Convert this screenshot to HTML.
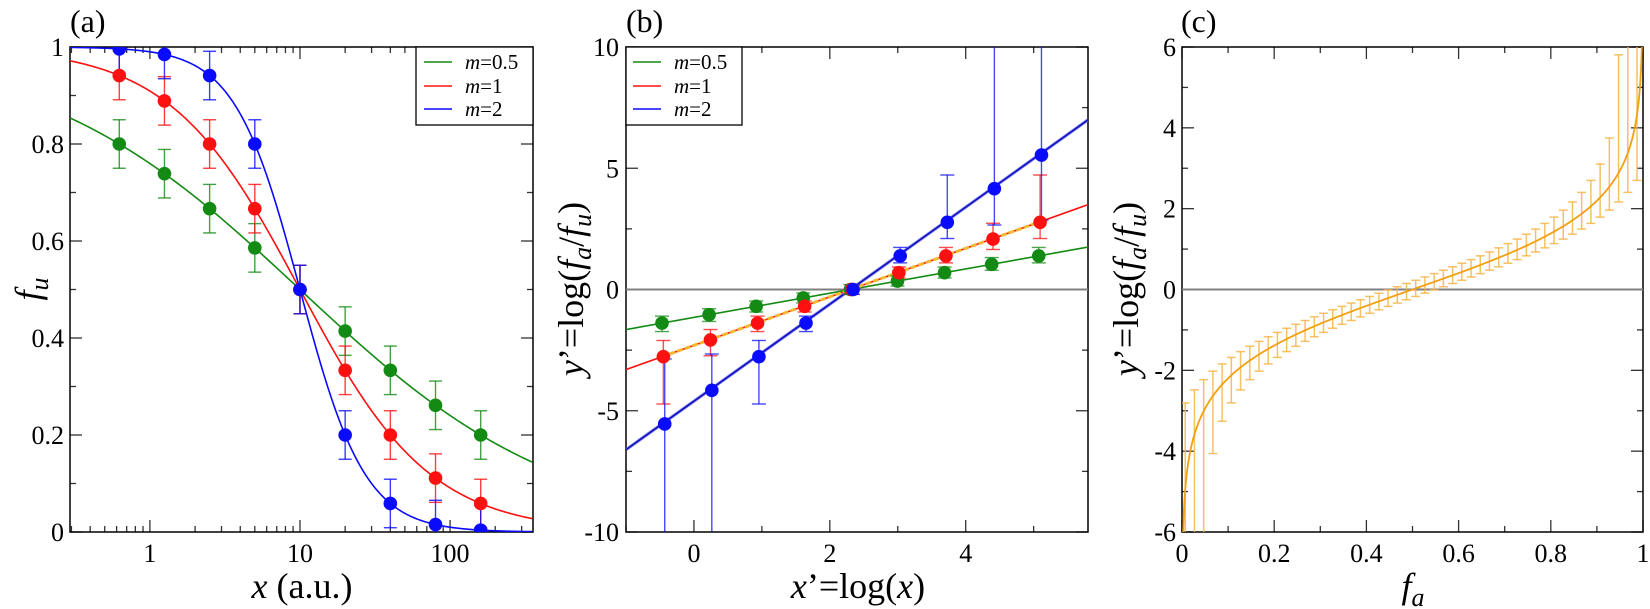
<!DOCTYPE html>
<html><head><meta charset="utf-8">
<style>
html,body{margin:0;padding:0;background:#fff;}
svg{display:block;font-family:"Liberation Serif","Times New Roman","DejaVu Serif",serif;}
svg text{font-family:"Liberation Serif","Times New Roman","DejaVu Serif",serif;fill:#000;}
</style></head>
<body>
<svg id="s" width="1650" height="609" viewBox="0 0 1650 609" xmlns="http://www.w3.org/2000/svg"></svg>
<script>
const S=document.getElementById('s');const NS='http://www.w3.org/2000/svg';
const FF='"Liberation Serif", "Times New Roman", "DejaVu Serif", serif';
function el(t,a,txt){const e=document.createElementNS(NS,t);for(const k in a)e.setAttribute(k,a[k]);if(txt!==undefined)e.textContent=txt;S.appendChild(e);return e;}
function line(x1,y1,x2,y2,c,w,extra){const a={x1,y1,x2,y2,stroke:c,'stroke-width':w||1};Object.assign(a,extra||{});return el('line',a);}
const G='#138a13',R='#ff1010',B='#0a0aff',OR='#f0a010',TK='#333';
function panel(P){
 P.X=v=>P.L+(v-P.xmin)/(P.xmax-P.xmin)*(P.R-P.L);
 P.Y=v=>P.Bm-(v-P.ymin)/(P.ymax-P.ymin)*(P.Bm-P.T);
 const cp='c'+P.L;
 const d=el('clipPath',{id:cp});const r=document.createElementNS(NS,'rect');
 r.setAttribute('x',P.L);r.setAttribute('y',P.T);r.setAttribute('width',P.R-P.L);r.setAttribute('height',P.Bm-P.T);d.appendChild(r);
 P.clip='url(#'+cp+')';return P;
}
function frame(P,xmaj,xmin_,ymaj,ymin_){
 for(const v of xmin_){const x=P.X(v);line(x,P.Bm,x,P.Bm-6,TK,1.3);line(x,P.T,x,P.T+6,TK,1.3);}
 for(const v of xmaj){const x=P.X(v);line(x,P.Bm,x,P.Bm-12,TK,1.3);line(x,P.T,x,P.T+12,TK,1.3);}
 for(const v of ymin_){const y=P.Y(v);line(P.L,y,P.L+6,y,TK,1.3);line(P.R,y,P.R-6,y,TK,1.3);}
 for(const v of ymaj){const y=P.Y(v);line(P.L,y,P.L+12,y,TK,1.3);line(P.R,y,P.R-12,y,TK,1.3);}
 el('rect',{x:P.L,y:P.T,width:P.R-P.L,height:P.Bm-P.T,fill:'none',stroke:'#000','stroke-width':1.5});
}
function path(P,pts,c,w,extra){let d='';pts.forEach((p,i)=>{d+=(i?'L':'M')+P.X(p[0]).toFixed(2)+' '+P.Y(p[1]).toFixed(2);});
 const a={d,fill:'none',stroke:c,'stroke-width':w,'clip-path':P.clip};Object.assign(a,extra||{});return el('path',a);}
function ebar(P,x,lo,hi,c,cw,w,op){
 const X=P.X(x);const yl=P.Y(Math.max(lo,P.ymin-1)),yh=P.Y(Math.min(hi,P.ymax+1));
 const g={stroke:c,'stroke-width':w||1.4,'clip-path':P.clip,opacity:op||1};
 el('line',Object.assign({x1:X,y1:yl,x2:X,y2:yh},g));
 if(lo>P.ymin)el('line',Object.assign({x1:X-cw,y1:yl,x2:X+cw,y2:yl},g));
 if(hi<P.ymax)el('line',Object.assign({x1:X-cw,y1:yh,x2:X+cw,y2:yh},g));
}
function dot(P,x,y,c,r){el('circle',{cx:P.X(x),cy:P.Y(y),r:r||6.8,fill:c,'clip-path':P.clip});}
function txt(x,y,s,size,anchor,extra){const a={x,y,'font-size':size,'text-anchor':anchor||'middle','font-family':FF};Object.assign(a,extra||{});return el('text',a,s);}
function rich(x,y,parts,size,anchor,rot){
 const t=el('text',{x,y,'font-size':size,'text-anchor':anchor||'middle','font-family':FF});
 if(rot)t.setAttribute('transform','rotate(-90 '+x+' '+y+')');
 for(const p of parts){const s=document.createElementNS(NS,'tspan');s.textContent=p[0];
  if(p[1]&&p[1].includes('i'))s.setAttribute('font-style','italic');
  if(p[1]&&p[1].includes('sub')){s.setAttribute('baseline-shift','-30%');s.setAttribute('font-size',size*0.72);}
  t.appendChild(s);}
 return t;
}
const ms=[0.5,1,2],cols=[G,R,B];
const xs=[0.625,1.25,2.5,5,10,20,40,80,160];
const fu=(x,m)=>1/(1+Math.pow(x/10,m));

// ---------- (a)
const A=panel({L:70,R:533,T:47,Bm:532,xmin:Math.log10(0.2935),xmax:Math.log10(357),ymin:0,ymax:1});
{
 const xmaj=[0,1,2],xmn=[];for(let d=-1;d<=2;d++)for(let k=2;k<=9;k++){const v=d+Math.log10(k);if(v>A.xmin&&v<A.xmax)xmn.push(v);}
 frame(A,xmaj,xmn,[0,.2,.4,.6,.8,1],[.1,.3,.5,.7,.9]);
 ms.forEach((m,i)=>{const pts=[];for(let t=A.xmin;t<=A.xmax+0.001;t+=0.01)pts.push([t,fu(Math.pow(10,t),m)]);path(A,pts,cols[i],1.6);});
 ms.forEach((m,i)=>{xs.forEach(x=>{const f=fu(x,m);ebar(A,Math.log10(x),f-0.05,f+0.05,cols[i],6.5,1.4,0.8);});});
 ms.forEach((m,i)=>{xs.forEach(x=>dot(A,Math.log10(x),fu(x,m),cols[i]));});
 [[0,'0'],[.2,'0.2'],[.4,'0.4'],[.6,'0.6'],[.8,'0.8'],[1,'1']].forEach(([v,s])=>txt(64,A.Y(v)+9,s,26,'end'));
 [[0,'1'],[1,'10'],[2,'100']].forEach(([v,s])=>txt(A.X(v),562,s,26));
 rich(302,598,[['x','i'],[' (a.u.)']],36);
 rich(40,289,[['f','i'],['u','i sub']],36,'middle',true);
 txt(70,32,'(a)',32,'start');
 el('rect',{x:416,y:47,width:117,height:78,fill:'#fff',stroke:'#000','stroke-width':1.3});
 [['0.5',G,62],['1',R,86],['2',B,109]].forEach(([v,c,y])=>{line(424,y,452,y,c,1.6);rich(465,y+7,[['m','i'],['='+v]],21,'start');});
}
// ---------- (b)
const Bp=panel({L:626,R:1088,T:47,Bm:532,xmin:-1,xmax:5.8,ymin:-10,ymax:10});
{
 frame(Bp,[0,2,4],[-1,1,3,5],[-10,-5,0,5,10],[-7.5,-2.5,2.5,7.5]);
 line(Bp.L,Bp.Y(0),Bp.R,Bp.Y(0),'#808080',2);
 const L10=Math.log(10);
 path(Bp,[[-1,2*(-1-L10)],[5.8,2*(5.8-L10)]],'#7070ff',3);
 path(Bp,[[-1,2*(-1-L10)],[5.8,2*(5.8-L10)]],'#1010b0',1.4);
 path(Bp,[[-1,1*(-1-L10)],[5.8,1*(5.8-L10)]],R,1.6);
 path(Bp,[[-1,.5*(-1-L10)],[5.8,.5*(5.8-L10)]],G,1.6);
 const xa=Math.log(0.625),xb=Math.log(160);
 path(Bp,[[xa,xa-L10],[xb,xb-L10]],'#f5b830',3,{'stroke-dasharray':'6 2'});
 const lg=f=>Math.log((1-f)/f);
 const off=[0,0.02,0.04];
 ms.forEach((m,i)=>{xs.forEach(x=>{const f=fu(x,m);const hi=(f-0.05<=0)?99:lg(f-0.05);const lo=(f+0.05>=1)?-99:lg(f+0.05);ebar(Bp,Math.log(x)+off[i],lo,hi,cols[i],7,1.4,0.75);});});
 ms.forEach((m,i)=>{xs.forEach(x=>dot(Bp,Math.log(x)+off[i],lg(fu(x,m)),cols[i]));});
 [[-10,'-10'],[-5,'-5'],[0,'0'],[5,'5'],[10,'10']].forEach(([v,s])=>txt(619,Bp.Y(v)+9,s,26,'end'));
 [[0,'0'],[2,'2'],[4,'4']].forEach(([v,s])=>txt(Bp.X(v),562,s,26));
 rich(858,598,[['x','i'],['’=log('],['x','i'],[')']],36);
 rich(583,289,[['y','i'],['’=log('],['f','i'],['a','i sub'],['/'],['f','i'],['u','i sub'],[')']],36,'middle',true);
 txt(626,32,'(b)',32,'start');
 el('rect',{x:626,y:47,width:116,height:78,fill:'#fff',stroke:'#000','stroke-width':1.3});
 [['0.5',G,62],['1',R,86],['2',B,109]].forEach(([v,c,y])=>{line(633,y,661,y,c,1.6);rich(674,y+7,[['m','i'],['='+v]],21,'start');});
}
// ---------- (c)
const C=panel({L:1182,R:1643,T:47,Bm:532,xmin:0,xmax:1,ymin:-6,ymax:6});
{
 frame(C,[0,.2,.4,.6,.8,1],[.1,.3,.5,.7,.9],[-6,-4,-2,0,2,4,6],[-5,-3,-1,1,3,5]);
 line(C.L,C.Y(0),C.R,C.Y(0),'#808080',2);
 const lg=f=>Math.log(f/(1-f));
 for(let k=0;k<50;k++){const f=0.007+0.02*k;const lo=(f-0.05<=0)?-99:lg(f-0.05);const hi=(f+0.05>=1)?99:lg(f+0.05);ebar(C,f,lo,hi,'#f5b74a',4.5,1.5,0.85);}
 const pts=[];for(let f=0.0005;f<0.9996;f+=0.001)pts.push([f,lg(f)]);path(C,pts,OR,1.8);
 [[-6,'-6'],[-4,'-4'],[-2,'-2'],[0,'0'],[2,'2'],[4,'4'],[6,'6']].forEach(([v,s])=>txt(1176,C.Y(v)+9,s,26,'end'));
 [[0,'0'],[.2,'0.2'],[.4,'0.4'],[.6,'0.6'],[.8,'0.8'],[1,'1']].forEach(([v,s])=>txt(C.X(v),562,s,26));
 rich(1413,598,[['f','i'],['a','i sub']],36);
 rich(1138,289,[['y','i'],['’=log('],['f','i'],['a','i sub'],['/'],['f','i'],['u','i sub'],[')']],36,'middle',true);
 txt(1181,32,'(c)',32,'start');
}
</script>
</body></html>
